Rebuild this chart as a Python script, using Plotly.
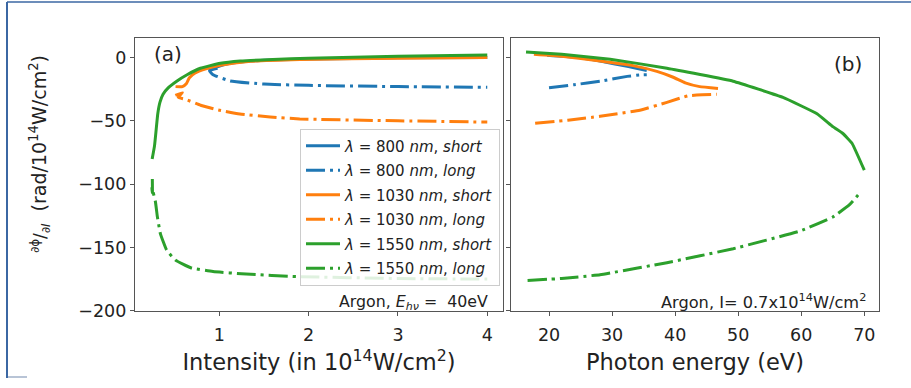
import plotly.graph_objects as go

# ---------------- data ----------------
# Panel (a): phase derivative vs intensity (1e14 W/cm^2)
I_800_short = [0.88, 0.96, 1.12, 1.46, 2.0, 3.0, 4.0]
P_800_short = [-10, -7.7, -4.6, -2.3, -1.2, -0.3, 0]
I_800_long = [0.98, 0.89, 0.93, 1.12, 1.5, 2.0, 3.0, 4.0]
P_800_long = [-8.6, -10.5, -13.6, -18.5, -21, -22, -23, -23.5]

I_1030_short = [0.51, 0.587, 0.63, 0.665, 0.73, 0.84, 1.01, 1.35, 1.9, 3.0, 4.0]
P_1030_short = [-23, -23, -20.8, -16, -12.3, -9.2, -6.2, -3, -1.5, -0.5, 0]
I_1030_long = [0.508, 0.587, 0.54, 0.62, 0.79, 0.99, 1.23, 1.57, 1.9, 3.0, 4.0]
P_1030_long = [-30, -27.7, -31.5, -33, -37.7, -41.5, -44.6, -47, -48.5, -50, -51]

I_1550_short = [0.248, 0.274, 0.293, 0.311, 0.335, 0.37, 0.43, 0.527, 0.639, 0.788, 1.011, 1.235, 1.6, 2.0, 3.0, 4.0]
P_1550_short = [-80.2, -70, -56.9, -44.4, -35.5, -29.0, -23.8, -18.5, -13.6, -8.5, -4.6, -2.8, -1.5, -0.5, 1.0, 2.0]
I_1550_long = [0.25, 0.251, 0.245, 0.258, 0.285, 0.307, 0.34, 0.41, 0.51, 0.68, 0.93, 1.3, 1.87, 3.0, 4.0]
P_1550_long = [-96, -107, -103, -106, -114, -126, -139, -152, -160, -166, -169, -171, -173, -174.5, -175]

# Panel (b): phase derivative vs photon energy (eV)
E_800_short = [19.7, 24.0, 28.1, 32.4, 35.5]
Q_800_short = [1.8, 0.3, -2.8, -7.0, -10.3]
E_800_long = [20.0, 24.0, 28.1, 32.4, 34.3, 35.5]
Q_800_long = [-23.8, -21.5, -18.7, -14.9, -13.8, -13.6]

E_1030_short = [17.6, 22.0, 28.1, 33.3, 37.1, 39.7, 41.6, 43.9, 46.8]
Q_1030_short = [2.6, 1.0, -2.8, -6.4, -11, -15.6, -20, -23, -24.4]
E_1030_long = [17.8, 23.0, 28.1, 34.4, 38.7, 42.0, 44.3, 46.6]
Q_1030_long = [-52, -49.5, -46.4, -41.6, -35.4, -30.3, -29.5, -29]

E_1550_short = [16.35, 22.0, 29.7, 38.7, 49.2, 57.1, 62.5, 65.0, 66.6, 68.05, 70.0]
Q_1550_short = [4.3, 2.5, -1.3, -8.5, -18.7, -31.5, -44.4, -54.6, -60, -67.7, -89]
E_1550_long = [16.6, 22.0, 28.1, 38.7, 49.2, 59.8, 65.0, 67.7, 69.3]
Q_1550_long = [-176, -174.5, -171.5, -162, -151, -137, -126, -116, -107]

labels = {
    ("800", "short"): "<i>λ</i> = 800 <i>nm</i>, <i>short</i>",
    ("800", "long"): "<i>λ</i> = 800 <i>nm</i>, <i>long</i>",
    ("1030", "short"): "<i>λ</i> = 1030 <i>nm</i>, <i>short</i>",
    ("1030", "long"): "<i>λ</i> = 1030 <i>nm</i>, <i>long</i>",
    ("1550", "short"): "<i>λ</i> = 1550 <i>nm</i>, <i>short</i>",
    ("1550", "long"): "<i>λ</i> = 1550 <i>nm</i>, <i>long</i>",
}
colors = {"800": "#1f77b4", "1030": "#ff7f0e", "1550": "#2ca02c"}
DASHDOT = "19px,5px,3px,5px"
FONT = "DejaVu Sans"

left = {
    ("800", "short"): (I_800_short, P_800_short),
    ("800", "long"): (I_800_long, P_800_long),
    ("1030", "short"): (I_1030_short, P_1030_short),
    ("1030", "long"): (I_1030_long, P_1030_long),
    ("1550", "short"): (I_1550_short, P_1550_short),
    ("1550", "long"): (I_1550_long, P_1550_long),
}
right = {
    ("800", "short"): (E_800_short, Q_800_short),
    ("800", "long"): (E_800_long, Q_800_long),
    ("1030", "short"): (E_1030_short, Q_1030_short),
    ("1030", "long"): (E_1030_long, Q_1030_long),
    ("1550", "short"): (E_1550_short, Q_1550_short),
    ("1550", "long"): (E_1550_long, Q_1550_long),
}

fig = go.Figure()
for key, (xs, ys) in left.items():
    wl, kind = key
    fig.add_trace(go.Scatter(
        x=xs, y=ys, mode="lines", name=labels[key], legendgroup=wl + kind,
        line=dict(color=colors[wl], width=3, dash="solid" if kind == "short" else DASHDOT,
                  shape="spline", smoothing=0.4),
        xaxis="x", yaxis="y"))
for key, (xs, ys) in right.items():
    wl, kind = key
    fig.add_trace(go.Scatter(
        x=xs, y=ys, mode="lines", showlegend=False, legendgroup=wl + kind,
        line=dict(color=colors[wl], width=3, dash="solid" if kind == "short" else DASHDOT,
                  shape="spline", smoothing=0.3),
        xaxis="x2", yaxis="y2"))

W, H = 911, 388
frame = "#555555"
ydom = [1 - 319 / H, 1 - 39 / H]
axis_common = dict(showline=True, mirror=True, linecolor=frame, linewidth=1.2,
                   ticks="outside", ticklen=4, tickcolor=frame, showgrid=False,
                   zeroline=False, tickfont=dict(size=17.5, family=FONT, color="#222"))

fig.update_layout(
    width=W, height=H, margin=dict(l=0, r=0, t=0, b=0),
    paper_bgcolor="white", plot_bgcolor="white",
    font=dict(family=FONT, color="#222"),
    xaxis=dict(domain=[135 / W, 503 / W], range=[0.056, 4.176], tickvals=[1, 2, 3, 4],
               ticklabelstandoff=4,
               title=dict(text="Intensity (in 10<sup>14</sup>W/cm<sup>2</sup>)",
                          font=dict(size=22.5, family=FONT, color="#222"), standoff=10),
               anchor="y", **axis_common),
    yaxis=dict(domain=ydom, range=[-200, 15.4], tickvals=[0, -50, -100, -150, -200],
               ticktext=["0", "−50", "−100", "−150", "−200"], anchor="x", **axis_common),
    xaxis2=dict(domain=[511 / W, 879 / W], range=[13.97, 72.33], tickvals=[20, 30, 40, 50, 60, 70],
                ticklabelstandoff=4,
                title=dict(text="Photon energy (eV)",
                           font=dict(size=22.5, family=FONT, color="#222"), standoff=10),
                anchor="y2", **axis_common),
    yaxis2=dict(domain=ydom, range=[-200, 15.4], tickvals=[0, -50, -100, -150, -200],
                showticklabels=False, anchor="x2", **axis_common),
    legend=dict(x=500 / W, xanchor="right", y=1 - 132 / H, yanchor="top",
                bgcolor="rgba(255,255,255,0.85)", bordercolor="#cccccc", borderwidth=1,
                font=dict(size=15, family=FONT, color="#222"), tracegroupgap=2,
                itemwidth=34),
    showlegend=True,
)

ylabel = ("<span style='font-size:17px'><sup>∂ϕ</sup>/<sub>∂<i>I</i></sub></span>"
          "  (rad/10<sup>14</sup>W/cm<sup>2</sup>)")
ann = [
    dict(text="(a)", x=168 / W, y=1 - 55 / H, font=dict(size=20)),
    dict(text="(b)", x=848 / W, y=1 - 66 / H, font=dict(size=20)),
    dict(text="Argon, <i>E<sub>hν</sub></i> =  40eV", x=490 / W, y=1 - 310 / H,
         xanchor="right", font=dict(size=15.8)),
    dict(text="Argon, I= 0.7x10<sup>14</sup>W/cm<sup>2</sup>", x=868 / W, y=1 - 309 / H,
         xanchor="right", font=dict(size=16.2)),
    dict(text=ylabel, x=40 / W, y=1 - 158 / H, textangle=-90, font=dict(size=19)),
]
for a in ann:
    a.setdefault("xanchor", "center")
    a["font"]["family"] = FONT
    a["font"]["color"] = "#222"
    fig.add_annotation(xref="paper", yref="paper", showarrow=False, yanchor="middle", **a)

# outer screenshot border (blue) seen on the reference
fig.add_shape(type="line", xref="paper", yref="paper", x0=7 / W, x1=7 / W, y0=0, y1=1 - 2 / H,
              line=dict(color="#3b67a3", width=2))
fig.add_shape(type="line", xref="paper", yref="paper", x0=7 / W, x1=1, y0=1 - 2 / H, y1=1 - 2 / H,
              line=dict(color="#3b67a3", width=1.5))
fig.add_shape(type="line", xref="paper", yref="paper", x0=8 / W, x1=27 / W, y0=1 / H, y1=1 / H,
              line=dict(color="#b8c4d6", width=2))

fig.write_html("out.html")
